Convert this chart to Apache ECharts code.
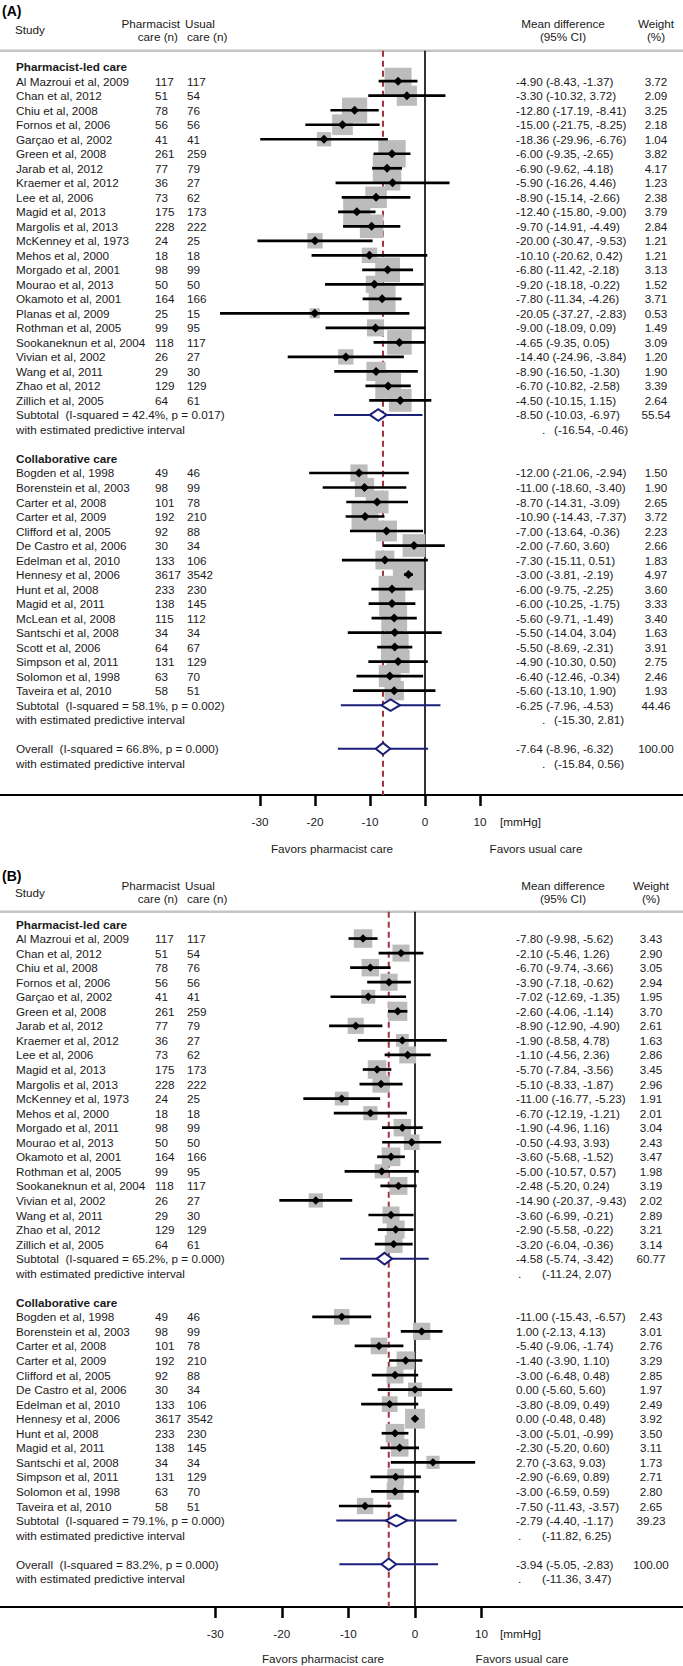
<!DOCTYPE html>
<html><head><meta charset="utf-8">
<script src="https://cdn.jsdelivr.net/npm/echarts@6/dist/echarts.min.js"></script>
<style>html,body{margin:0;padding:0;background:#fff}#c{width:683px;height:1666px}</style>
</head><body><div id="c"></div>
<script>
// ---------------- DATA ----------------
const groupLabels = ['Pharmacist-led care', 'Collaborative care'];
const xTicks = [-30, -20, -10, 0, 10];

// Panel A - Pharmacist-led care
const studiesA_PL = ['Al Mazroui et al, 2009','Chan et al, 2012','Chiu et al, 2008','Fornos et al, 2006','Garçao et al, 2002','Green et al, 2008','Jarab et al, 2012','Kraemer et al, 2012','Lee et al, 2006','Magid et al, 2013','Margolis et al, 2013','McKenney et al, 1973','Mehos et al, 2000','Morgado et al, 2001','Mourao et al, 2013','Okamoto et al, 2001','Planas et al, 2009','Rothman et al, 2005','Sookaneknun et al, 2004','Vivian et al, 2002','Wang et al, 2011','Zhao et al, 2012','Zillich et al, 2005'];
const nPharmA_PL = [117,51,78,56,41,261,77,36,73,175,228,24,18,98,50,164,25,99,118,26,29,129,64];
const nUsualA_PL = [117,54,76,56,41,259,79,27,62,173,222,25,18,99,50,166,15,95,117,27,30,129,61];
const mdA_PL = [-4.90,-3.30,-12.80,-15.00,-18.36,-6.00,-6.90,-5.90,-8.90,-12.40,-9.70,-20.00,-10.10,-6.80,-9.20,-7.80,-20.05,-9.00,-4.65,-14.40,-8.90,-6.70,-4.50];
const loA_PL = [-8.43,-10.32,-17.19,-21.75,-29.96,-9.35,-9.62,-16.26,-15.14,-15.80,-14.91,-30.47,-20.62,-11.42,-18.18,-11.34,-37.27,-18.09,-9.35,-24.96,-16.50,-10.82,-10.15];
const hiA_PL = [-1.37,3.72,-8.41,-8.25,-6.76,-2.65,-4.18,4.46,-2.66,-9.00,-4.49,-9.53,0.42,-2.18,-0.22,-4.26,-2.83,0.09,0.05,-3.84,-1.30,-2.58,1.15];
const wA_PL = [3.72,2.09,3.25,2.18,1.04,3.82,4.17,1.23,2.38,3.79,2.84,1.21,1.21,3.13,1.52,3.71,0.53,1.49,3.09,1.20,1.90,3.39,2.64];

// Panel A - Collaborative care
const studiesA_CC = ['Bogden et al, 1998','Borenstein et al, 2003','Carter et al, 2008','Carter et al, 2009','Clifford et al, 2005','De Castro et al, 2006','Edelman et al, 2010','Hennesy et al, 2006','Hunt et al, 2008','Magid et al, 2011','McLean et al, 2008','Santschi et al, 2008','Scott et al, 2006','Simpson et al, 2011','Solomon et al, 1998','Taveira et al, 2010'];
const nPharmA_CC = [49,98,101,192,92,30,133,3617,233,138,115,34,64,131,63,58];
const nUsualA_CC = [46,99,78,210,88,34,106,3542,230,145,112,34,67,129,70,51];
const mdA_CC = [-12.00,-11.00,-8.70,-10.90,-7.00,-2.00,-7.30,-3.00,-6.00,-6.00,-5.60,-5.50,-5.50,-4.90,-6.40,-5.60];
const loA_CC = [-21.06,-18.60,-14.31,-14.43,-13.64,-7.60,-15.11,-3.81,-9.75,-10.25,-9.71,-14.04,-8.69,-10.30,-12.46,-13.10];
const hiA_CC = [-2.94,-3.40,-3.09,-7.37,-0.36,3.60,0.51,-2.19,-2.25,-1.75,-1.49,3.04,-2.31,0.50,-0.34,1.90];
const wA_CC = [1.50,1.90,2.65,3.72,2.23,2.66,1.83,4.97,3.60,3.33,3.40,1.63,3.91,2.75,2.46,1.93];

// Panel A - subtotals / overall
const sumLabelsA = ['Subtotal  (I-squared = 42.4%, p = 0.017)','Subtotal  (I-squared = 58.1%, p = 0.002)','Overall  (I-squared = 66.8%, p = 0.000)'];
const sumMdA = [-8.50,-6.25,-7.64];
const sumLoA = [-10.03,-7.96,-8.96];
const sumHiA = [-6.97,-4.53,-6.32];
const sumWA = [55.54,44.46,100.00];
const predLoA = [-16.54,-15.30,-15.84];
const predHiA = [-0.46,2.81,0.56];

// Panel B - Pharmacist-led care
const studiesB_PL = ['Al Mazroui et al, 2009','Chan et al, 2012','Chiu et al, 2008','Fornos et al, 2006','Garçao et al, 2002','Green et al, 2008','Jarab et al, 2012','Kraemer et al, 2012','Lee et al, 2006','Magid et al, 2013','Margolis et al, 2013','McKenney et al, 1973','Mehos et al, 2000','Morgado et al, 2011','Mourao et al, 2013','Okamoto et al, 2001','Rothman et al, 2005','Sookaneknun et al, 2004','Vivian et al, 2002','Wang et al, 2011','Zhao et al, 2012','Zillich et al, 2005'];
const nPharmB_PL = [117,51,78,56,41,261,77,36,73,175,228,24,18,98,50,164,99,118,26,29,129,64];
const nUsualB_PL = [117,54,76,56,41,259,79,27,62,173,222,25,18,99,50,166,95,117,27,30,129,61];
const mdB_PL = [-7.80,-2.10,-6.70,-3.90,-7.02,-2.60,-8.90,-1.90,-1.10,-5.70,-5.10,-11.00,-6.70,-1.90,-0.50,-3.60,-5.00,-2.48,-14.90,-3.60,-2.90,-3.20];
const loB_PL = [-9.98,-5.46,-9.74,-7.18,-12.69,-4.06,-12.90,-8.58,-4.56,-7.84,-8.33,-16.77,-12.19,-4.96,-4.93,-5.68,-10.57,-5.20,-20.37,-6.99,-5.58,-6.04];
const hiB_PL = [-5.62,1.26,-3.66,-0.62,-1.35,-1.14,-4.90,4.78,2.36,-3.56,-1.87,-5.23,-1.21,1.16,3.93,-1.52,0.57,0.24,-9.43,-0.21,-0.22,-0.36];
const wB_PL = [3.43,2.90,3.05,2.94,1.95,3.70,2.61,1.63,2.86,3.45,2.96,1.91,2.01,3.04,2.43,3.47,1.98,3.19,2.02,2.89,3.21,3.14];

// Panel B - Collaborative care
const studiesB_CC = ['Bogden et al, 1998','Borenstein et al, 2003','Carter et al, 2008','Carter et al, 2009','Clifford et al, 2005','De Castro et al, 2006','Edelman et al, 2010','Hennesy et al, 2006','Hunt et al, 2008','Magid et al, 2011','Santschi et al, 2008','Simpson et al, 2011','Solomon et al, 1998','Taveira et al, 2010'];
const nPharmB_CC = [49,98,101,192,92,30,133,3617,233,138,34,131,63,58];
const nUsualB_CC = [46,99,78,210,88,34,106,3542,230,145,34,129,70,51];
const mdB_CC = [-11.00,1.00,-5.40,-1.40,-3.00,0.00,-3.80,0.00,-3.00,-2.30,2.70,-2.90,-3.00,-7.50];
const loB_CC = [-15.43,-2.13,-9.06,-3.90,-6.48,-5.60,-8.09,-0.48,-5.01,-5.20,-3.63,-6.69,-6.59,-11.43];
const hiB_CC = [-6.57,4.13,-1.74,1.10,0.48,5.60,0.49,0.48,-0.99,0.60,9.03,0.89,0.59,-3.57];
const wB_CC = [2.43,3.01,2.76,3.29,2.85,1.97,2.49,3.92,3.50,3.11,1.73,2.71,2.80,2.65];

// Panel B - subtotals / overall
const sumLabelsB = ['Subtotal  (I-squared = 65.2%, p = 0.000)','Subtotal  (I-squared = 79.1%, p = 0.000)','Overall  (I-squared = 83.2%, p = 0.000)'];
const sumMdB = [-4.58,-2.79,-3.94];
const sumLoB = [-5.74,-4.40,-5.05];
const sumHiB = [-3.42,-1.17,-2.83];
const sumWB = [60.77,39.23,100.00];
const predLoB = [-11.24,-11.82,-11.36];
const predHiB = [2.07,6.25,3.47];

// ---------------- LAYOUT ----------------
const W = 683;
const FONT = '"Liberation Sans", Arial, Helvetica, sans-serif';
const FS = 11.7;
const TXT = '#1a1a1a';
const NAVY = '#1b1f78';
const RED = '#a3323f';
const GRAY = '#bcbcbc';

const panels = [
  { key:'A', label:'(A)', topY:50.7, row0Y:66.7, rowH:14.51, axisY:795, zeroX:425, ppu:5.5, boxK:14, dot:4.5,
    headY:[11,23,29,36], favY:848, favX:[332,536], mmX:500, ciX:516, dotX:542, predX:554, wX:656,
    pl:[studiesA_PL,nPharmA_PL,nUsualA_PL,mdA_PL,loA_PL,hiA_PL,wA_PL],
    cc:[studiesA_CC,nPharmA_CC,nUsualA_CC,mdA_CC,loA_CC,hiA_CC,wA_CC],
    sum:[sumLabelsA,sumMdA,sumLoA,sumHiA,sumWA,predLoA,predHiA] },
  { key:'B', label:'(B)', topY:911.7, row0Y:924, rowH:14.55, axisY:1607, zeroX:415, ppu:6.66, boxK:10, dot:4.2,
    headY:[876,885,892,898], favY:1658, favX:[323,522], mmX:500, ciX:516, dotX:518, predX:542, wX:651,
    pl:[studiesB_PL,nPharmB_PL,nUsualB_PL,mdB_PL,loB_PL,hiB_PL,wB_PL],
    cc:[studiesB_CC,nPharmB_CC,nUsualB_CC,mdB_CC,loB_CC,hiB_CC,wB_CC],
    sum:[sumLabelsB,sumMdB,sumLoB,sumHiB,sumWB,predLoB,predHiB] }
];

function f2(v){ return (Math.abs(v) < 0.005 ? 0 : v).toFixed(2); }

function buildRows(p){
  const rows = [];
  const s = p.sum;
  const addSum = (si) => {
    rows.push({type:'sum', name:s[0][si], md:s[1][si], lo:s[2][si], hi:s[3][si], w:s[4][si], plo:s[5][si], phi:s[6][si]});
    rows.push({type:'pred', plo:s[5][si], phi:s[6][si]});
  };
  const addGroup = (g, arr, si) => {
    rows.push({type:'group', text:groupLabels[g]});
    arr[0].forEach((n,i)=>rows.push({type:'study', name:n, n1:arr[1][i], n2:arr[2][i], md:arr[3][i], lo:arr[4][i], hi:arr[5][i], w:arr[6][i]}));
    addSum(si);
  };
  addGroup(0, p.pl, 0);
  rows.push({type:'blank'});
  addGroup(1, p.cc, 1);
  rows.push({type:'blank'});
  addSum(2);
  return rows;
}

const grids=[], xAxes=[], yAxes=[], series=[], graphics=[];

panels.forEach((p, pi) => {
  const rows = buildRows(p);
  const yMin = (p.topY - p.row0Y)/p.rowH;
  const yMax = (p.axisY - p.row0Y)/p.rowH;
  grids.push({left:0, width:W, top:p.topY, height:p.axisY - p.topY, containLabel:false});
  xAxes.push({type:'value', gridIndex:pi, min:-p.zeroX/p.ppu, max:(W-p.zeroX)/p.ppu, position:'bottom',
    splitLine:{show:false},
    axisLine:{show:true, onZero:false, lineStyle:{color:'#000', width:2}},
    axisTick:{show:true, customValues:xTicks, length:11, lineStyle:{color:'#000', width:2.5}},
    axisLabel:{show:true, customValues:xTicks, margin:20, color:TXT, fontSize:FS, fontFamily:FONT}});
  yAxes.push({type:'value', gridIndex:pi, min:yMin, max:yMax, inverse:true, show:false});

  const overall = p.sum[1][2];
  // reference lines (null effect and overall estimate)
  series.push({type:'custom', xAxisIndex:pi, yAxisIndex:pi, silent:true, animation:false, clip:false, z:1,
    data:[[0, yMin, 0], [overall, yMin, 1]],
    renderItem:(params, api) => {
      const a = api.coord([api.value(0), yMin]);
      const b = api.coord([api.value(0), yMax]);
      const dashed = api.value(2) === 1;
      return {type:'line', shape:{x1:a[0], y1:a[1], x2:b[0], y2:b[1]},
        style:{stroke: dashed ? RED : '#000', lineWidth: dashed ? 2 : 1.6, lineDash: dashed ? [6,4] : null}};
    }});
  // weight boxes
  const studyRows = rows.map((r,i)=>[r,i]).filter(d=>d[0].type==='study');
  series.push({type:'custom', xAxisIndex:pi, yAxisIndex:pi, silent:true, animation:false, clip:false, z:2,
    data: studyRows.map(d=>[d[0].md, d[1], d[0].w]),
    renderItem:(params, api) => {
      const c = api.coord([api.value(0), api.value(1)]);
      const s = p.boxK*Math.sqrt(api.value(2));
      return {type:'rect', shape:{x:c[0]-s/2, y:c[1]-s/2, width:s, height:s}, style:{fill:GRAY}};
    }});
  // CI lines + point markers
  series.push({type:'custom', xAxisIndex:pi, yAxisIndex:pi, silent:true, animation:false, clip:false, z:3,
    data: studyRows.map(d=>[d[0].lo, d[1], d[0].hi, d[0].md]),
    renderItem:(params, api) => {
      const a = api.coord([api.value(0), api.value(1)]);
      const b = api.coord([api.value(2), api.value(1)]);
      const m = api.coord([api.value(3), api.value(1)]);
      const d = p.dot;
      return {type:'group', children:[
        {type:'line', shape:{x1:a[0], y1:a[1], x2:b[0], y2:b[1]}, style:{stroke:'#000', lineWidth:2.7}},
        {type:'polygon', shape:{points:[[m[0]-d,m[1]],[m[0],m[1]-d],[m[0]+d,m[1]],[m[0],m[1]+d]]}, style:{fill:'#000'}}
      ]};
    }});
  // summary diamonds with predictive intervals
  const sumRows = rows.map((r,i)=>[r,i]).filter(d=>d[0].type==='sum');
  series.push({type:'custom', xAxisIndex:pi, yAxisIndex:pi, silent:true, animation:false, clip:false, z:4,
    data: sumRows.map(d=>[d[0].plo, d[1], d[0].phi, d[0].lo, d[0].hi, d[0].md]),
    renderItem:(params, api) => {
      const r = api.value(1);
      const a = api.coord([api.value(0), r]);
      const b = api.coord([api.value(2), r]);
      const l = api.coord([api.value(3), r]);
      const h = api.coord([api.value(4), r]);
      const m = api.coord([api.value(5), r]);
      const dh = 5.8;
      return {type:'group', children:[
        {type:'line', shape:{x1:a[0], y1:a[1], x2:b[0], y2:b[1]}, style:{stroke:NAVY, lineWidth:2}},
        {type:'polygon', shape:{points:[[l[0],l[1]],[m[0],m[1]-dh],[h[0],h[1]],[m[0],m[1]+dh]]}, style:{fill:'#fff', stroke:NAVY, lineWidth:2}}
      ]};
    }});
  // row texts
  series.push({type:'custom', xAxisIndex:pi, yAxisIndex:pi, silent:true, animation:false, clip:false, z:5,
    data: rows.map((r,i)=>[0,i]),
    renderItem:(params, api) => {
      const i = api.value(1);
      const r = rows[i];
      const y = api.coord([0, i])[1];
      const ch = [];
      const t = (x, s, align, bold) => ch.push({type:'text', style:{x:x, y:y, text:s, fill:TXT, fontSize:FS, fontFamily:FONT, fontWeight: bold ? 'bold' : 'normal', align: align || 'left', verticalAlign:'middle'}});
      if (r.type==='group') t(16, r.text, 'left', true);
      else if (r.type==='study') {
        t(16, r.name); t(155, String(r.n1)); t(187, String(r.n2));
        t(p.ciX, f2(r.md)+' ('+f2(r.lo)+', '+f2(r.hi)+')');
        t(p.wX, f2(r.w), 'center');
      } else if (r.type==='sum') {
        t(16, r.name);
        t(p.ciX, f2(r.md)+' ('+f2(r.lo)+', '+f2(r.hi)+')');
        t(p.wX, f2(r.w), 'center');
      } else if (r.type==='pred') {
        t(16, 'with estimated predictive interval');
        t(p.dotX, '.'); t(p.predX, '('+f2(r.plo)+', '+f2(r.phi)+')');
      }
      return {type:'group', children:ch};
    }});

  // header / footer graphics
  const g = (x, y, text, align) => graphics.push({type:'text', x:x, y:y, silent:true,
    style:{text:text, fill:TXT, fontSize:FS, fontFamily:FONT, align:align||'left', verticalAlign:'middle'}});
  const hy = p.headY;
  graphics.push({type:'text', x:2, y:hy[0], silent:true, style:{text:p.label, fill:'#000', fontSize:14, fontWeight:'bold', fontFamily:FONT, align:'left', verticalAlign:'middle'}});
  g(15, hy[2], 'Study');
  g(180, hy[1], 'Pharmacist', 'right'); g(185, hy[1], 'Usual');
  g(178, hy[3], 'care (n)', 'right'); g(187, hy[3], 'care (n)');
  g(563, hy[1], 'Mean difference', 'center'); g(563, hy[3], '(95% CI)', 'center');
  g(p.wX, hy[1], 'Weight', 'center'); g(p.wX, hy[3], '(%)', 'center');
  graphics.push({type:'line', silent:true, shape:{x1:0, y1:p.topY, x2:W, y2:p.topY}, style:{stroke:'#c4c4c4', lineWidth:2.5}});
  g(p.mmX, p.axisY + 26, '[mmHg]');
  g(p.favX[0], p.favY, 'Favors pharmacist care', 'center');
  g(p.favX[1], p.favY, 'Favors usual care', 'center');
});

const chart = echarts.init(document.getElementById('c'), null, {renderer:'svg', width:683, height:1666});
chart.setOption({
  animation:false,
  backgroundColor:'#fff',
  grid:grids, xAxis:xAxes, yAxis:yAxes, series:series, graphic:graphics
});
</script></body></html>
